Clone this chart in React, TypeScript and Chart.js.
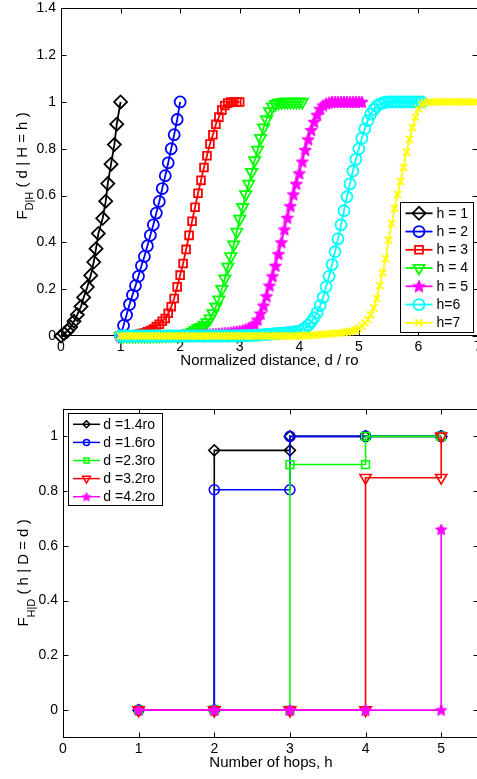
import React, { useEffect, useRef } from "react";
import { Chart, registerables } from "chart.js";
import { drawPoint } from "chart.js/helpers";

Chart.register(...registerables);

const FONT = "'Liberation Sans', Arial, Helvetica, sans-serif";

// ---------------- Top panel data: F_{D|H}(d | H = h) ----------------
const topXTicks = [0, 1, 2, 3, 4, 5, 6, 7];
const topYTicks = [0, 0.2, 0.4, 0.6, 0.8, 1, 1.2, 1.4];

const h1Distance = [0, 0.05, 0.106, 0.163, 0.218, 0.274, 0.336, 0.381, 0.442, 0.499, 0.549, 0.588, 0.627, 0.7, 0.751, 0.785, 0.84, 0.896, 0.936, 1.0];
const h1F = [0, 0.01, 0.021, 0.038, 0.063, 0.091, 0.126, 0.165, 0.209, 0.259, 0.316, 0.373, 0.438, 0.503, 0.576, 0.651, 0.734, 0.818, 0.905, 1.0];

// normalized distance grid shared by h = 2..7 (each series starts at the first entry)
const distanceGrid = [
  1.0, 1.05, 1.1, 1.15, 1.2, 1.25, 1.3, 1.35, 1.4, 1.45, 1.5, 1.55, 1.6, 1.65, 1.7, 1.75, 1.8, 1.85, 1.9, 1.95,
  2.0, 2.05, 2.1, 2.15, 2.2, 2.25, 2.3, 2.35, 2.4, 2.45, 2.5, 2.55, 2.6, 2.65, 2.7, 2.75, 2.8, 2.85, 2.9, 2.95,
  3.0, 3.05, 3.1, 3.15, 3.2, 3.25, 3.3, 3.35, 3.4, 3.45, 3.5, 3.55, 3.6, 3.65, 3.7, 3.75, 3.8, 3.85, 3.9, 3.95,
  4.0, 4.05, 4.1, 4.15, 4.2, 4.25, 4.3, 4.35, 4.4, 4.45, 4.5, 4.55, 4.6, 4.65, 4.7, 4.75, 4.8, 4.85, 4.9, 4.95,
  5.0, 5.05, 5.1, 5.15, 5.2, 5.25, 5.3, 5.35, 5.4, 5.45, 5.5, 5.55, 5.6, 5.65, 5.7, 5.75, 5.8, 5.85, 5.9, 5.95,
  6.0, 6.05, 6.1, 6.15, 6.2, 6.25, 6.3, 6.35, 6.4, 6.45, 6.5, 6.55, 6.6, 6.65, 6.7, 6.75, 6.8, 6.85, 6.9, 6.95,
  7.0,
];

const h2F = [0, 0.045, 0.09, 0.135, 0.175, 0.215, 0.255, 0.3, 0.34, 0.385, 0.43, 0.475, 0.525, 0.575, 0.63, 0.685, 0.74, 0.8, 0.86, 0.925, 1.0];

const h3F = [
  0, 0, 0.001, 0.002, 0.003, 0.005, 0.007, 0.01, 0.013, 0.018, 0.023, 0.03, 0.04, 0.05, 0.063, 0.075, 0.097, 0.125, 0.16, 0.21,
  0.26, 0.31, 0.37, 0.43, 0.49, 0.55, 0.61, 0.665, 0.72, 0.77, 0.82, 0.86, 0.905, 0.935, 0.965, 0.985, 0.995, 0.999, 1, 1,
  1,
];

const h4F = [
  0, 0, 0, 0, 0, 0, 0, 0, 0, 0, 0, 0.001, 0.001, 0.001, 0.001, 0.002, 0.002, 0.002, 0.003, 0.003,
  0.004, 0.005, 0.008, 0.012, 0.018, 0.025, 0.032, 0.038, 0.046, 0.058, 0.074, 0.097, 0.125, 0.155, 0.2, 0.245, 0.295, 0.34, 0.39, 0.445,
  0.5, 0.55, 0.605, 0.65, 0.7, 0.75, 0.795, 0.845, 0.89, 0.925, 0.96, 0.98, 0.99, 0.996, 0.998, 1, 1, 1, 1, 1,
  1, 1,
];

const h5F = [
  0, 0, 0, 0, 0, 0, 0, 0, 0, 0, 0, 0, 0, 0, 0, 0, 0, 0, 0, 0,
  0.001, 0.001, 0.001, 0.002, 0.002, 0.003, 0.003, 0.004, 0.005, 0.006, 0.007, 0.008, 0.009, 0.01, 0.011, 0.012, 0.013, 0.015, 0.017, 0.019,
  0.021, 0.024, 0.028, 0.033, 0.04, 0.05, 0.07, 0.096, 0.13, 0.17, 0.215, 0.255, 0.3, 0.35, 0.4, 0.455, 0.505, 0.555, 0.605, 0.65,
  0.695, 0.745, 0.795, 0.84, 0.88, 0.915, 0.945, 0.97, 0.985, 0.993, 0.997, 1, 1, 1, 1, 1, 1, 1, 1, 1,
  1, 1,
];

const h6F = [
  0, 0, 0, 0, 0, 0, 0, 0, 0, 0, 0, 0, 0, 0, 0, 0, 0, 0, 0, 0,
  0, 0, 0, 0, 0, 0, 0, 0, 0, 0, 0, 0, 0, 0, 0, 0, 0, 0, 0, 0,
  0.001, 0.001, 0.002, 0.002, 0.003, 0.003, 0.004, 0.005, 0.006, 0.007, 0.008, 0.009, 0.01, 0.011, 0.012, 0.013, 0.014, 0.015, 0.017, 0.019,
  0.021, 0.027, 0.035, 0.046, 0.06, 0.078, 0.1, 0.13, 0.165, 0.21, 0.255, 0.305, 0.36, 0.415, 0.475, 0.535, 0.595, 0.65, 0.705, 0.755,
  0.8, 0.845, 0.885, 0.92, 0.948, 0.968, 0.982, 0.991, 0.996, 0.999, 1, 1, 1, 1, 1, 1, 1, 1, 1, 1,
  1, 1,
];

const h7F = [
  0, 0, 0, 0, 0, 0, 0, 0, 0, 0, 0, 0, 0, 0, 0, 0, 0, 0, 0, 0,
  0, 0, 0, 0, 0, 0, 0, 0, 0, 0, 0, 0, 0, 0, 0, 0, 0, 0, 0, 0,
  0, 0, 0, 0, 0, 0, 0, 0, 0, 0, 0, 0, 0, 0, 0, 0, 0, 0, 0, 0,
  0.001, 0.001, 0.002, 0.002, 0.003, 0.004, 0.005, 0.006, 0.007, 0.008, 0.009, 0.01, 0.011, 0.012, 0.013, 0.015, 0.017, 0.019, 0.022, 0.026,
  0.032, 0.042, 0.056, 0.07, 0.09, 0.12, 0.16, 0.215, 0.27, 0.33, 0.41, 0.48, 0.545, 0.605, 0.66, 0.72, 0.785, 0.84, 0.89, 0.935,
  0.97, 0.988, 0.995, 0.998, 0.999, 1, 1, 1, 1, 1, 1, 1, 1, 1, 1, 1, 1, 1, 1, 1,
  1,
];

const topLabels = ["h = 1", "h = 2", "h = 3", "h = 4", "h = 5", "h=6", "h=7"];
const topXTitle = "Normalized distance, d / ro";

// ---------------- Bottom panel data: F_{H|D}(h | D = d) ----------------
const hops = [1, 2, 3, 4, 5];
const fD14 = [0, 0.949, 1, 1, 1];
const fD16 = [0, 0.805, 1, 1, 1];
const fD23 = [0, 0, 0.897, 1, 1];
const fD32 = [0, 0, 0, 0.849, 1];
const fD42 = [0, 0, 0, 0, 0.66];
const bottomXTicks = [0, 1, 2, 3, 4, 5];
const bottomYTicks = [0, 0.2, 0.4, 0.6, 0.8, 1];
const bottomLabels = ["d =1.4ro", "d =1.6ro", "d =2.3ro", "d =3.2ro", "d =4.2ro"];
const bottomXTitle = "Number of hops, h";

// ---------------- helpers ----------------
function starImage(color: string, r: number) {
  const c = document.createElement("canvas");
  const s = Math.ceil(2 * r + 3);
  c.width = s;
  c.height = s;
  const g = c.getContext("2d")!;
  g.translate(s / 2, s / 2 + 0.5);
  g.beginPath();
  for (let i = 0; i < 10; i++) {
    const rr = i % 2 === 0 ? r : r * 0.45;
    const a = -Math.PI / 2 + (i * Math.PI) / 5;
    g.lineTo(rr * Math.cos(a), rr * Math.sin(a));
  }
  g.closePath();
  g.fillStyle = color;
  g.fill();
  g.strokeStyle = color;
  g.lineWidth = 1;
  g.stroke();
  return c;
}

function onGrid(values: number[]) {
  return values.map((y, i) => ({ x: distanceGrid[i], y }));
}

function stairs(xs: number[], ys: number[]) {
  const pts: { x: number; y: number }[] = [];
  for (let i = 0; i < xs.length; i++) {
    pts.push({ x: xs[i], y: ys[i] });
    if (i < xs.length - 1) pts.push({ x: xs[i + 1], y: ys[i] });
  }
  return pts;
}

function drawYLabel(ctx: CanvasRenderingContext2D, x: number, cy: number, main: string, sub: string, rest: string, subShift: number) {
  ctx.save();
  ctx.translate(x, cy);
  ctx.rotate(-Math.PI / 2);
  ctx.fillStyle = "#000";
  ctx.textBaseline = "alphabetic";
  ctx.textAlign = "left";
  const mf = `15px ${FONT}`;
  const sf = `11px ${FONT}`;
  ctx.font = mf;
  const w1 = ctx.measureText(main).width;
  const w3 = ctx.measureText(rest).width;
  ctx.font = sf;
  const w2 = ctx.measureText(sub).width;
  let xx = -(w1 + w2 + w3) / 2;
  ctx.font = mf;
  ctx.fillText(main, xx, 0);
  xx += w1;
  ctx.font = sf;
  ctx.fillText(sub, xx, subShift);
  xx += w2;
  ctx.font = mf;
  ctx.fillText(rest, xx, 0);
  ctx.restore();
}

function decorPlugin(cfg: any) {
  return {
    id: "decor",
    beforeDatasetsDraw(chart: any) {
      const { ctx, chartArea: a, scales } = chart;
      ctx.save();
      ctx.strokeStyle = "#000";
      ctx.lineWidth = 1;
      const L = Math.round(a.left) + 0.5;
      const T = Math.round(a.top) + 0.5;
      const R = Math.round(a.right) - 0.5;
      const B = Math.round(a.bottom) - 0.5;
      ctx.strokeRect(L, T, R - L, B - T);
      const tl = 5;
      ctx.beginPath();
      for (const v of cfg.xTicks) {
        const px = Math.round(scales.x.getPixelForValue(v)) + 0.5;
        ctx.moveTo(px, B);
        ctx.lineTo(px, B - tl);
        ctx.moveTo(px, T);
        ctx.lineTo(px, T + tl);
      }
      for (const v of cfg.yTicks) {
        const py = Math.round(scales.y.getPixelForValue(v)) + 0.5;
        ctx.moveTo(L, py);
        ctx.lineTo(L + tl, py);
        ctx.moveTo(R, py);
        ctx.lineTo(R - tl, py);
      }
      ctx.stroke();
      ctx.restore();
    },
    afterDraw(chart: any) {
      const { ctx } = chart;
      ctx.save();
      // x title
      ctx.fillStyle = "#000";
      ctx.font = `15px ${FONT}`;
      ctx.textAlign = "center";
      ctx.textBaseline = "middle";
      ctx.fillText(cfg.xTitle.text, cfg.xTitle.x, cfg.xTitle.y);
      // y label
      const yl = cfg.yLabel;
      drawYLabel(ctx, yl.x, yl.y, yl.main, yl.sub, yl.rest, yl.shift);
      // legend
      const lg = cfg.legend;
      ctx.fillStyle = "#fff";
      ctx.fillRect(lg.x, lg.y, lg.w, lg.h);
      ctx.strokeStyle = "#000";
      ctx.lineWidth = 1;
      ctx.strokeRect(Math.round(lg.x) + 0.5, Math.round(lg.y) + 0.5, Math.round(lg.w) - 1, Math.round(lg.h) - 1);
      lg.entries.forEach((e: any, i: number) => {
        const y = lg.y0 + i * lg.dy;
        ctx.strokeStyle = e.color;
        ctx.lineWidth = lg.lw;
        ctx.beginPath();
        ctx.moveTo(lg.x1, y);
        ctx.lineTo(lg.x2, y);
        ctx.stroke();
        ctx.fillStyle = "rgba(0,0,0,0)";
        ctx.strokeStyle = e.color;
        ctx.lineWidth = lg.lw;
        drawPoint(ctx, { pointStyle: e.style, rotation: e.rotation || 0, radius: e.radius, borderWidth: lg.lw } as any, (lg.x1 + lg.x2) / 2, y);
        ctx.fillStyle = "#000";
        ctx.font = `14px ${FONT}`;
        ctx.textAlign = "left";
        ctx.textBaseline = "middle";
        ctx.fillText(e.label, lg.tx, y + 0.5);
      });
      ctx.restore();
    },
  };
}

function series(label: string, data: any[], color: string, style: any, radius: number, rotation: number, order: number, lw: number) {
  return {
    label,
    data,
    borderColor: color,
    backgroundColor: color,
    borderWidth: lw,
    pointStyle: style,
    pointRadius: radius,
    pointRotation: rotation,
    pointBorderColor: color,
    pointBackgroundColor: "rgba(0,0,0,0)",
    pointBorderWidth: lw,
    tension: 0,
    clip: false,
    order,
  };
}

function scaleOpts(min: number, max: number, ticks: number[], fit: (s: any) => void, padding: number) {
  return {
    type: "linear",
    min,
    max,
    afterBuildTicks: (s: any) => {
      s.ticks = ticks.map((v) => ({ value: v }));
    },
    afterFit: (s: any) => {
      fit(s);
      s.paddingTop = 0;
      s.paddingBottom = 0;
      s.paddingLeft = 0;
      s.paddingRight = 0;
    },
    grid: { display: false, drawTicks: false, tickLength: 0 },
    border: { display: false },
    ticks: {
      color: "#000",
      font: { family: FONT, size: 14 },
      padding,
      autoSkip: false,
      maxRotation: 0,
      callback: (v: any) => String(v),
    },
  };
}

export default function App() {
  const topRef = useRef<HTMLCanvasElement>(null);
  const botRef = useRef<HTMLCanvasElement>(null);

  useEffect(() => {
    const starTop = starImage("#ff00ff", 6.5);
    const starBot = starImage("#ff00ff", 6);
    const starLegTop = starImage("#ff00ff", 6.5);
    const starLegBot = starImage("#ff00ff", 4.5);

    const topStyles = [
      { color: "#000000", style: "rectRot", radius: 6.5, rotation: 0 },
      { color: "#0000ff", style: "circle", radius: 5.5, rotation: 0 },
      { color: "#ff0000", style: "rect", radius: 5.5, rotation: 0 },
      { color: "#00ff00", style: "triangle", radius: 6.5, rotation: 180 },
      { color: "#ff00ff", style: starTop, radius: 6, rotation: 0 },
      { color: "#00ffff", style: "circle", radius: 5.5, rotation: 0 },
      { color: "#ffff00", style: "crossRot", radius: 5, rotation: 0 },
    ];
    const topData = [
      h1Distance.map((x, i) => ({ x, y: h1F[i] })),
      onGrid(h2F),
      onGrid(h3F),
      onGrid(h4F),
      onGrid(h5F),
      onGrid(h6F),
      onGrid(h7F),
    ];
    const topDatasets = topData.map((d, i) =>
      series(topLabels[i], d, topStyles[i].color, topStyles[i].style, topStyles[i].radius, topStyles[i].rotation, topData.length - 1 - i, 1.8)
    );

    const top = new Chart(topRef.current!, {
      type: "line",
      data: { datasets: topDatasets as any },
      options: {
        animation: false,
        responsive: false,
        events: [],
        layout: { padding: { left: 0, top: 8, right: 22, bottom: 0 } },
        plugins: { legend: { display: false }, tooltip: { enabled: false } },
        scales: {
          x: scaleOpts(0, 7, topXTicks, (s: any) => { s.height = 44; }, 3) as any,
          y: scaleOpts(0, 1.4, topYTicks, (s: any) => { s.width = 61; }, 5) as any,
        },
      },
      plugins: [
        decorPlugin({
          xTicks: topXTicks,
          yTicks: topYTicks,
          xTitle: { text: topXTitle, x: 269.5, y: 361 },
          yLabel: { x: 26.5, y: 166, main: "F", sub: "D|H", rest: " ( d | H = h )", shift: 6.5 },
          legend: {
            x: 400, y: 202, w: 74, h: 131, y0: 213.3, dy: 18.25, x1: 405.5, x2: 432.5, tx: 436.5, lw: 1.8,
            entries: topStyles.map((s, i) => ({
              label: topLabels[i],
              color: s.color,
              style: i === 4 ? starLegTop : s.style,
              radius: s.radius,
              rotation: s.rotation,
            })),
          },
        }),
      ] as any,
    });

    const botStyles = [
      { color: "#000000", style: "rectRot", radius: 5.5, rotation: 0, legR: 3.5 },
      { color: "#0000ff", style: "circle", radius: 5, rotation: 0, legR: 3 },
      { color: "#00ff00", style: "rect", radius: 5.5, rotation: 0, legR: 3.5 },
      { color: "#ff0000", style: "triangle", radius: 6.5, rotation: 180, legR: 4.5 },
      { color: "#ff00ff", style: starBot, radius: 6, rotation: 0, legR: 4.5 },
    ];
    const botValues = [fD14, fD16, fD23, fD32, fD42];
    const botDatasets = botValues.map((v, i) =>
      series(bottomLabels[i], stairs(hops, v), botStyles[i].color, botStyles[i].style, botStyles[i].radius, botStyles[i].rotation, botValues.length - 1 - i, 1.6)
    );

    const bot = new Chart(botRef.current!, {
      type: "line",
      data: { datasets: botDatasets as any },
      options: {
        animation: false,
        responsive: false,
        events: [],
        layout: { padding: { left: 0, top: 29, right: 21, bottom: 0 } },
        plugins: { legend: { display: false }, tooltip: { enabled: false } },
        scales: {
          x: scaleOpts(0, 5.5, bottomXTicks, (s: any) => { s.height = 41.5; }, 3) as any,
          y: scaleOpts(-0.1, 1.1, bottomYTicks, (s: any) => { s.width = 63; }, 5) as any,
        },
      },
      plugins: [
        decorPlugin({
          xTicks: bottomXTicks,
          yTicks: bottomYTicks,
          xTitle: { text: bottomXTitle, x: 271, y: 383 },
          yLabel: { x: 27.5, y: 193, main: "F", sub: "H|D", rest: " ( h | D = d )", shift: 7 },
          legend: {
            x: 67.5, y: 33, w: 95, h: 93, y0: 44.3, dy: 18.1, x1: 73, x2: 100, tx: 103.3, lw: 1.5,
            entries: botStyles.map((s, i) => ({
              label: bottomLabels[i],
              color: s.color,
              style: i === 4 ? starLegBot : s.style,
              radius: s.legR,
              rotation: s.rotation,
            })),
          },
        }),
      ] as any,
    });

    return () => {
      top.destroy();
      bot.destroy();
    };
  }, []);

  return (
    <div
      style={{
        position: "fixed",
        left: 0,
        top: 0,
        width: 477,
        height: 779,
        overflow: "hidden",
        background: "#fff",
      }}
    >
      <canvas ref={topRef} width={500} height={380} style={{ position: "absolute", left: 0, top: 0, width: 500, height: 380 }} />
      <canvas ref={botRef} width={500} height={399} style={{ position: "absolute", left: 0, top: 380, width: 500, height: 399 }} />
    </div>
  );
}
